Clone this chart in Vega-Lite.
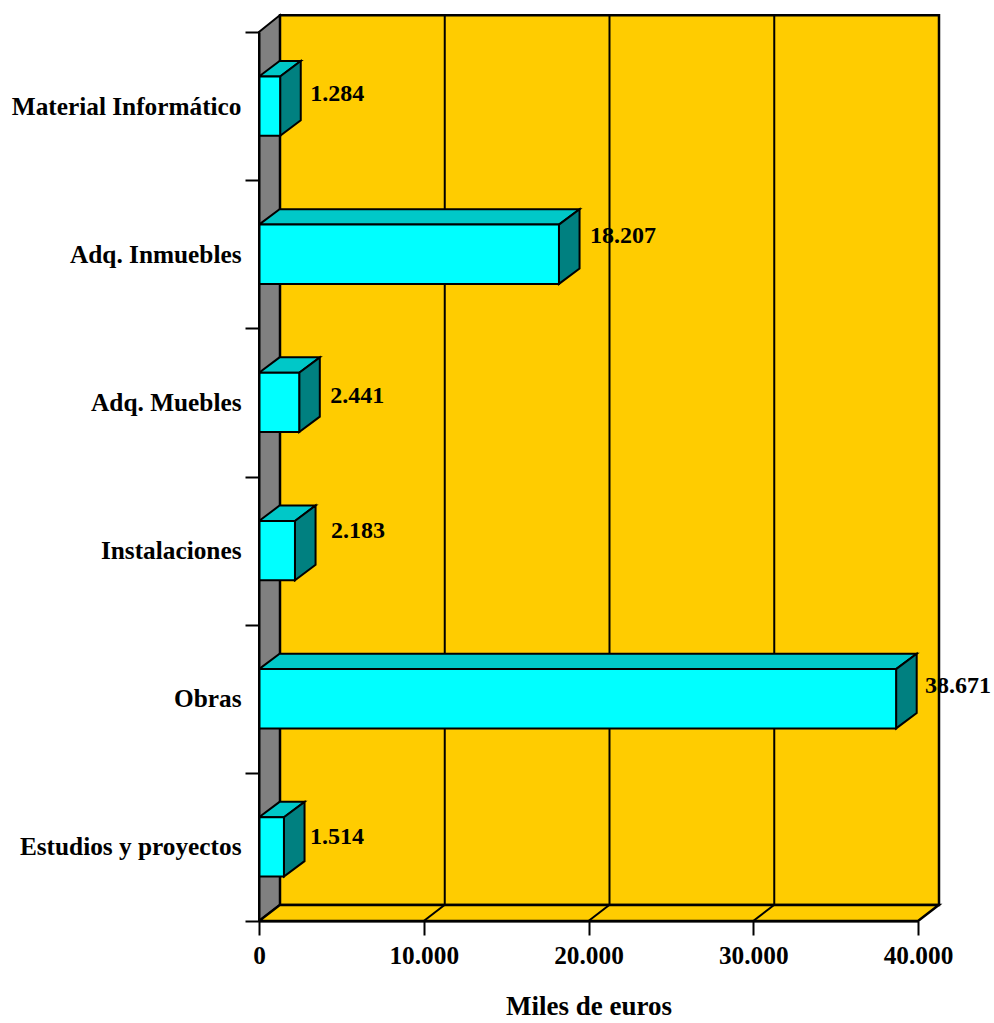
{
"$schema":"https://vega.github.io/schema/vega-lite/v6.json",
"width":659,"height":889,
"autosize":"none",
"padding":{"left":259,"top":32,"right":76,"bottom":102},
"background":"white",
"config":{"view":{"stroke":null},"text":{"font":"Liberation Serif","fontWeight":"bold","fontSize":24,"color":"black"}},
"datasets":{
"bars":[
{"category":"Material Informático","value":1284},
{"category":"Adq. Inmuebles","value":18207},
{"category":"Adq. Muebles","value":2441},
{"category":"Instalaciones","value":2183},
{"category":"Obras","value":38671},
{"category":"Estudios y proyectos","value":1514}],
"scale":[{"tick":0},{"tick":10000},{"tick":20000},{"tick":30000},{"tick":40000}]
},
"resolve":{"scale":{"y":"independent"}},
"layer":[
{"data":{"values":[{"a":0,"b":40000,"c":0,"d":6}]},
 "transform":[{"calculate":"datum.c+0.108","as":"y0"},{"calculate":"datum.d+0.113","as":"y1"}],
 "mark":{"type":"rect","fill":"#FFCC00","stroke":"black","strokeWidth":2.5,"xOffset":21,"x2Offset":21},
 "encoding":{"x":{"field":"a","type":"quantitative","scale":{"domain":[0,40000],"nice":false},
   "axis":{"values":[0,10000,20000,30000,40000],"labelExpr":"replace(format(datum.value,','),',','.')","grid":false,"tickSize":14,"tickWidth":2,"tickColor":"black","domainColor":"black","domainWidth":2,"labelFont":"Liberation Serif","labelFontWeight":"bold","labelFontSize":25.3,"labelColor":"black","labelPadding":8,"labelFlush":false,"title":"Miles de euros","titleFont":"Liberation Serif","titleFontWeight":"bold","titleFontSize":27,"titleColor":"black","titlePadding":25,"zindex":1}},
   "x2":{"field":"b"},
   "y":{"field":"y0","type":"quantitative","scale":{"domain":[0,6],"nice":false,"zero":false},"axis":null},"y2":{"field":"y1"}}},
{"data":{"name":"scale"},"transform":[{"filter":"datum.tick>0 && datum.tick<40000"},{"calculate":"0.108","as":"y0"},{"calculate":"6.113","as":"y1"}],
 "mark":{"type":"rule","stroke":"black","strokeWidth":2,"xOffset":21,"x2Offset":21},
 "encoding":{"x":{"field":"tick","type":"quantitative"},"y":{"field":"y0","type":"quantitative","scale":{"domain":[0,6],"nice":false,"zero":false},"axis":null},"y2":{"field":"y1"}}},
{"data":{"values":[{"v":0},{"v":1},{"v":2},{"v":3},{"v":4}]},
 "transform":[
  {"calculate":"[0,1260,1260,0,0][datum.v]","as":"px"},
  {"calculate":"[0,0.108,6.113,6,0][datum.v]","as":"py"}],
 "mark":{"type":"line","fill":"#808080","stroke":"black","strokeWidth":2},
 "encoding":{"x":{"field":"px","type":"quantitative"},"y":{"field":"py","type":"quantitative","scale":{"domain":[0,6],"nice":false,"zero":false},"axis":null},"order":{"field":"v"}}},
{"data":{"values":[{"v":0},{"v":1},{"v":2},{"v":3},{"v":4}]},
 "transform":[
  {"calculate":"[0,1260,41260,40000,0][datum.v]","as":"px"},
  {"calculate":"[0,0.108,0.108,0,0][datum.v]","as":"py"}],
 "mark":{"type":"line","fill":"#FFCC00","stroke":"black","strokeWidth":2.5},
 "encoding":{"x":{"field":"px","type":"quantitative"},"y":{"field":"py","type":"quantitative","scale":{"domain":[0,6],"nice":false,"zero":false},"axis":null},"order":{"field":"v"}}},
{"data":{"name":"scale"},"transform":[{"filter":"datum.tick>0 && datum.tick<40000"},{"calculate":"datum.tick+1260","as":"tick2"},{"calculate":"0","as":"y0"},{"calculate":"0.108","as":"y1"}],
 "mark":{"type":"rule","stroke":"black","strokeWidth":2},
 "encoding":{"x":{"field":"tick","type":"quantitative"},"x2":{"field":"tick2"},"y":{"field":"y0","type":"quantitative","scale":{"domain":[0,6],"nice":false,"zero":false},"axis":null},"y2":{"field":"y1"}}},
{"data":{"name":"bars"},
 "transform":[
  {"window":[{"op":"row_number","as":"n"}]},
  {"calculate":"6-datum.n+0.5+0.2","as":"top"},
  {"calculate":"[0,1,2,3,4]","as":"v"},{"flatten":["v"]},
  {"calculate":"[0,datum.value,datum.value+1250,1250,0][datum.v]","as":"px"},
  {"calculate":"datum.top+[0,0,0.104,0.104,0][datum.v]","as":"py"}],
 "mark":{"type":"line","fill":"#00C8C8","stroke":"black","strokeWidth":2},
 "encoding":{"x":{"field":"px","type":"quantitative"},"y":{"field":"py","type":"quantitative","scale":{"domain":[0,6],"nice":false,"zero":false},"axis":null},"detail":{"field":"category"},"order":{"field":"v"}}},
{"data":{"name":"bars"},
 "transform":[
  {"window":[{"op":"row_number","as":"n"}]},
  {"calculate":"6-datum.n+0.5+0.2","as":"top"},
  {"calculate":"[0,1,2,3,4]","as":"v"},{"flatten":["v"]},
  {"calculate":"datum.value+[0,1250,1250,0,0][datum.v]","as":"px"},
  {"calculate":"datum.top+[0,0.104,0.104-0.4,-0.4,0][datum.v]","as":"py"}],
 "mark":{"type":"line","fill":"#008080","stroke":"black","strokeWidth":2},
 "encoding":{"x":{"field":"px","type":"quantitative"},"y":{"field":"py","type":"quantitative","scale":{"domain":[0,6],"nice":false,"zero":false},"axis":null},"detail":{"field":"category"},"order":{"field":"v"}}},
{"data":{"name":"bars"},
 "mark":{"type":"bar","fill":"#00FFFF","stroke":"black","strokeWidth":2,"height":{"band":0.4}},
 "encoding":{"x":{"field":"value","type":"quantitative"},
  "y":{"field":"category","type":"nominal","sort":null,"scale":{"paddingInner":0,"paddingOuter":0},
   "axis":{"title":null,"tickBand":"extent","tickSize":14,"tickWidth":2,"tickColor":"black","domainColor":"black","domainWidth":2,"labelFont":"Liberation Serif","labelFontWeight":"bold","labelFontSize":25.3,"labelColor":"black","labelPadding":4,"labelLimit":300,"zindex":1}}}},
{"data":{"name":"bars"},"transform":[{"filter":"datum.category=='Material Informático'"},{"calculate":"replace(format(datum.value,','),',','.')","as":"label"}],
 "mark":{"type":"text","align":"left","baseline":"middle","dx":30,"dy":-12},
 "encoding":{"x":{"field":"value","type":"quantitative"},"y":{"field":"category","type":"nominal","sort":null,"scale":{"domain":["Material Informático","Adq. Inmuebles","Adq. Muebles","Instalaciones","Obras","Estudios y proyectos"],"paddingInner":0,"paddingOuter":0},"axis":null},"text":{"field":"label"}}},
{"data":{"name":"bars"},"transform":[{"filter":"datum.category=='Adq. Inmuebles'"},{"calculate":"replace(format(datum.value,','),',','.')","as":"label"}],
 "mark":{"type":"text","align":"left","baseline":"middle","dx":31,"dy":-18},
 "encoding":{"x":{"field":"value","type":"quantitative"},"y":{"field":"category","type":"nominal","sort":null,"scale":{"domain":["Material Informático","Adq. Inmuebles","Adq. Muebles","Instalaciones","Obras","Estudios y proyectos"],"paddingInner":0,"paddingOuter":0},"axis":null},"text":{"field":"label"}}},
{"data":{"name":"bars"},"transform":[{"filter":"datum.category=='Adq. Muebles'"},{"calculate":"replace(format(datum.value,','),',','.')","as":"label"}],
 "mark":{"type":"text","align":"left","baseline":"middle","dx":31,"dy":-6},
 "encoding":{"x":{"field":"value","type":"quantitative"},"y":{"field":"category","type":"nominal","sort":null,"scale":{"domain":["Material Informático","Adq. Inmuebles","Adq. Muebles","Instalaciones","Obras","Estudios y proyectos"],"paddingInner":0,"paddingOuter":0},"axis":null},"text":{"field":"label"}}},
{"data":{"name":"bars"},"transform":[{"filter":"datum.category=='Instalaciones'"},{"calculate":"replace(format(datum.value,','),',','.')","as":"label"}],
 "mark":{"type":"text","align":"left","baseline":"middle","dx":36,"dy":-20},
 "encoding":{"x":{"field":"value","type":"quantitative"},"y":{"field":"category","type":"nominal","sort":null,"scale":{"domain":["Material Informático","Adq. Inmuebles","Adq. Muebles","Instalaciones","Obras","Estudios y proyectos"],"paddingInner":0,"paddingOuter":0},"axis":null},"text":{"field":"label"}}},
{"data":{"name":"bars"},"transform":[{"filter":"datum.category=='Obras'"},{"calculate":"replace(format(datum.value,','),',','.')","as":"label"}],
 "mark":{"type":"text","align":"left","baseline":"middle","dx":29,"dy":-13},
 "encoding":{"x":{"field":"value","type":"quantitative"},"y":{"field":"category","type":"nominal","sort":null,"scale":{"domain":["Material Informático","Adq. Inmuebles","Adq. Muebles","Instalaciones","Obras","Estudios y proyectos"],"paddingInner":0,"paddingOuter":0},"axis":null},"text":{"field":"label"}}},
{"data":{"name":"bars"},"transform":[{"filter":"datum.category=='Estudios y proyectos'"},{"calculate":"replace(format(datum.value,','),',','.')","as":"label"}],
 "mark":{"type":"text","align":"left","baseline":"middle","dx":26,"dy":-10},
 "encoding":{"x":{"field":"value","type":"quantitative"},"y":{"field":"category","type":"nominal","sort":null,"scale":{"domain":["Material Informático","Adq. Inmuebles","Adq. Muebles","Instalaciones","Obras","Estudios y proyectos"],"paddingInner":0,"paddingOuter":0},"axis":null},"text":{"field":"label"}}}
]
}
